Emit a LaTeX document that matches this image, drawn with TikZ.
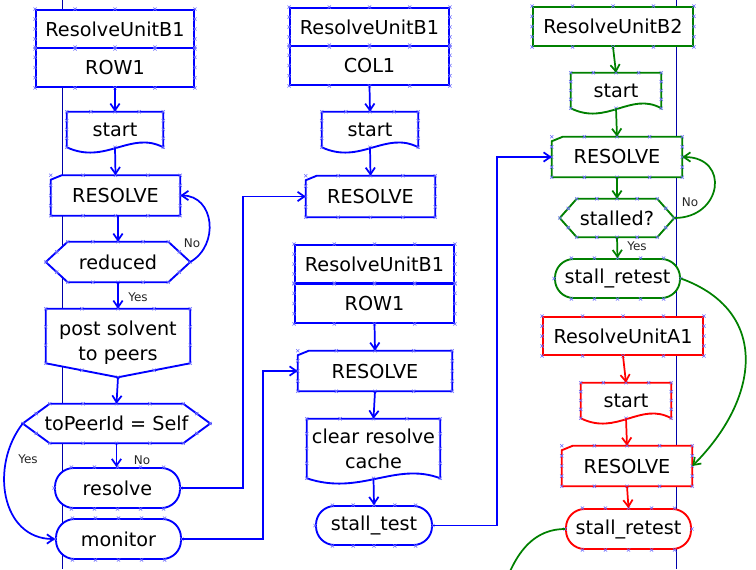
\documentclass[tikz,border=0pt]{standalone}
\usepackage{fontspec}
\setmainfont{DejaVu Sans}
\usetikzlibrary{arrows.meta,calc}
\pgfdeclarelayer{lifeline}
\pgfdeclarelayer{shapebg}
\pgfsetlayers{lifeline,shapebg,main}
\definecolor{cblue}{RGB}{0,0,255}
\definecolor{cgreen}{RGB}{0,128,0}
\definecolor{cred}{RGB}{255,0,0}
\definecolor{lifec}{RGB}{0,0,170}
\definecolor{mkc}{RGB}{110,110,255}
\tikzset{
  txt/.style={font=\fontsize{14.4}{18.5}\selectfont, inner sep=0pt, align=center},
  lbl/.style={font=\fontsize{9}{10}\selectfont, inner sep=0pt, text=black!85},
  sz/.style 2 args={minimum width=#1*0.75pt, minimum height=#2*0.75pt},
  boxn/.style={txt, rectangle, draw=#1, fill=white, line width=1.4pt},
  stad/.style={txt, rectangle, rounded corners=14pt, draw=#1, fill=white, line width=1.4pt},
  plain/.style={txt, rectangle},
  outl/.style={draw=#1, fill=white, line width=1.4pt, line join=miter},
  conn/.style={draw=#1, line width=1.3pt, -{Straight Barb[length=5pt,width=7pt]}},
  life/.style={draw=lifec, line width=0.6pt},
  mk/.style={draw=mkc, line width=0.45pt},
  xmk/.pic={\draw[mk] (-1.6,-1.6) -- (1.6,1.6) (-1.6,1.6) -- (1.6,-1.6);},
}
\newcommand\docshape[2]{%
  \draw[outl=#2] (#1.north west) -- (#1.north east) -- (#1.south east)
    .. controls ($(#1.south east)!0.34!(#1.south west)+(0,-17)$) and ($(#1.south east)!0.6!(#1.south west)+(0,18)$) .. (#1.south west) -- cycle;}
\newcommand\cardshape[2]{%
  \draw[outl=#2] ($(#1.north west)+(0,4.5)$) -- ($(#1.north west)+(11,0)$) -- (#1.north east) -- (#1.south east) -- (#1.south west) -- cycle;}
\newcommand\hexshape[3]{%
  \draw[outl=#2] (#1.west) -- ($(#1.north west)+(#3,0)$) -- ($(#1.north east)+(-#3,0)$) -- (#1.east) -- ($(#1.south east)+(-#3,0)$) -- ($(#1.south west)+(#3,0)$) -- cycle;}
\newcommand\offpageshape[2]{%
  \draw[outl=#2] (#1.north west) -- (#1.north east) -- ($(#1.south east)+(0,-14)$) -- (#1.south) -- ($(#1.south west)+(0,-14)$) -- cycle;}
% connection-point markers
\newcommand\edgemk[3]{\foreach \f in {#3}{\path ($(#1)!\f!(#2)$) pic{xmk};}}
\newcommand\rmarks[1]{%
  \edgemk{#1.north west}{#1.north east}{0,0.25,0.5,0.75,1}
  \edgemk{#1.south west}{#1.south east}{0,0.25,0.5,0.75,1}
  \edgemk{#1.north west}{#1.south west}{0.25,0.5,0.75}
  \edgemk{#1.north east}{#1.south east}{0.25,0.5,0.75}}
\newcommand\dmarks[1]{%
  \edgemk{#1.north west}{#1.north east}{0,0.25,0.5,0.75,1}
  \edgemk{#1.north west}{#1.south west}{0.25,0.5,0.75,1}
  \edgemk{#1.north east}{#1.south east}{0.25,0.5,0.75,1}
  \path (#1.south) pic{xmk};}
\newcommand\hmarks[2]{%
  \edgemk{[xshift=#2*0.75pt]#1.north west}{[xshift=-#2*0.75pt]#1.north east}{0,0.25,0.5,0.75,1}
  \edgemk{[xshift=#2*0.75pt]#1.south west}{[xshift=-#2*0.75pt]#1.south east}{0,0.25,0.5,0.75,1}
  \edgemk{#1.west}{[xshift=#2*0.75pt]#1.north west}{0,0.5}
  \edgemk{#1.west}{[xshift=#2*0.75pt]#1.south west}{0.5}
  \edgemk{#1.east}{[xshift=-#2*0.75pt]#1.north east}{0,0.5}
  \edgemk{#1.east}{[xshift=-#2*0.75pt]#1.south east}{0.5}}
\newcommand\smarks[1]{%
  \edgemk{[xshift=13pt]#1.north west}{[xshift=-13pt]#1.north east}{0,0.25,0.5,0.75,1}
  \edgemk{[xshift=13pt]#1.south west}{[xshift=-13pt]#1.south east}{0,0.25,0.5,0.75,1}
  \path (#1.west) pic{xmk} (#1.east) pic{xmk};}
\newcommand\omarks[1]{%
  \edgemk{#1.north west}{#1.north east}{0,0.25,0.5,0.75,1}
  \edgemk{#1.north west}{[yshift=10.5pt]#1.south west}{0.33,0.67,1}
  \edgemk{#1.north east}{[yshift=10.5pt]#1.south east}{0.33,0.67,1}
  \edgemk{[yshift=10.5pt]#1.south west}{#1.south}{0.5,1}
  \edgemk{[yshift=10.5pt]#1.south east}{#1.south}{0.5}}
\begin{document}
\begin{tikzpicture}[x=0.75pt,y=-0.75pt]
\useasboundingbox (0,0) rectangle (756,569);
% lifelines
\coordinate (La) at (62,0);
\coordinate (Lb) at (62,569);
\coordinate (Lc) at (676.5,0);
\coordinate (Ld) at (676.5,569);
\begin{pgfonlayer}{lifeline}
  \draw[life] (La) -- (Lb);
  \draw[life] (Lc) -- (Ld);
\end{pgfonlayer}

% column 1
\node[boxn=cblue, sz={158}{38}] (h1) at (115,29) {ResolveUnitB1};
\node[boxn=cblue, sz={158}{39}] (r1) at (115,67.5) {ROW1};
\node[plain, sz={96}{35}] (s1) at (115,129.5) {start};
\node[plain, sz={129}{40}] (R1) at (115.5,195.5) {RESOLVE};
\node[plain, sz={144}{40}] (d1) at (118,262) {reduced};
\node[plain, sz={144}{68}] (p1) at (118,343) {post solvent\\to peers};
\node[plain, sz={187}{39}] (t1) at (116.5,423.5) {toPeerId = Self};
\node[stad=cblue, sz={125}{40}] (rs1) at (117.5,488) {resolve};
\node[stad=cblue, sz={125}{40}] (m1) at (118.5,539) {monitor};

% column 2
\node[boxn=cblue, sz={159}{38}] (h2) at (369.5,27) {ResolveUnitB1};
\node[boxn=cblue, sz={159}{39}] (c2) at (369.5,65.5) {COL1};
\node[plain, sz={96}{35}] (s2) at (370,129.5) {start};
\node[plain, sz={129}{41}] (R2) at (370.5,196.5) {RESOLVE};
\node[boxn=cblue, sz={159}{38}] (h3) at (374.5,264) {ResolveUnitB1};
\node[boxn=cblue, sz={159}{39}] (r3) at (374.5,303.5) {ROW1};
\node[plain, sz={154}{40}] (R3) at (375,371) {RESOLVE};
\node[plain, sz={133}{59}] (c3) at (373.5,448.5) {clear resolve\\cache};
\node[stad=cblue, sz={116}{39}] (st) at (374,525.5) {stall\_test};

% column 3
\node[boxn=cgreen, sz={160}{39}] (h4) at (613,26.5) {ResolveUnitB2};
\node[plain, sz={90}{35}] (s4) at (616,90.5) {start};
\node[plain, sz={130}{40}] (R4) at (617,157) {RESOLVE};
\node[plain, sz={114}{38}] (d4) at (617,218) {stalled?};
\node[stad=cgreen, sz={125}{39}] (sr4) at (617.5,278.5) {stall\_retest};
\node[boxn=cred, sz={160}{38}] (h5) at (623,336) {ResolveUnitA1};
\node[plain, sz={90}{35}] (s5) at (626,400.5) {start};
\node[plain, sz={130}{40}] (R5) at (627,466) {RESOLVE};
\node[stad=cred, sz={125}{40}] (sr5) at (628.5,529) {stall\_retest};

% outlines
\begin{pgfonlayer}{shapebg}
  \docshape{s1}{cblue}
  \cardshape{R1}{cblue}
  \hexshape{d1}{cblue}{22}
  \offpageshape{p1}{cblue}
  \hexshape{t1}{cblue}{27}
  \docshape{s2}{cblue}
  \cardshape{R2}{cblue}
  \cardshape{R3}{cblue}
  \docshape{c3}{cblue}
  \docshape{s4}{cgreen}
  \cardshape{R4}{cgreen}
  \hexshape{d4}{cgreen}{17}
  \docshape{s5}{cred}
  \cardshape{R5}{cred}
\end{pgfonlayer}

% markers
\foreach \n in {h1,r1,h2,c2,h3,r3,h4,h5,R1,R2,R3,R4,R5}{\rmarks{\n}}
\foreach \n in {s1,s2,c3,s4,s5}{\dmarks{\n}}
\foreach \n in {rs1,m1,st,sr4,sr5}{\smarks{\n}}
\hmarks{d1}{22}
\hmarks{t1}{27}
\hmarks{d4}{17}
\omarks{p1}

% labels
\node[lbl] (lyes1) at (138,297) {Yes};
\node[lbl] (lno1) at (192,243) {No};
\node[lbl] (lyes2) at (28,459) {Yes};
\node[lbl] (lno2) at (142,460) {No};
\node[lbl] (lno3) at (690,202) {No};
\node[lbl] (lyes3) at (637,246) {Yes};

% connectors column 1
\draw[conn=cblue] (r1.south) -- (s1.north);
\draw[conn=cblue] (s1.south) -- (R1.north);
\draw[conn=cblue] (d1.north |- R1.south) -- (d1.north);
\draw[conn=cblue] (d1.south) -- (p1.north);
\draw[conn=cblue] (p1.south) -- (t1.north);
\draw[conn=cblue] (t1.south) -- (t1.south |- rs1.north);
\draw[conn=cblue] (t1.west) to[out=232,in=180,looseness=1.15] (m1.west);
\draw[conn=cblue] (d1.east) to[out=30,in=0,looseness=1.3] (R1.east);
\draw[conn=cblue] (rs1.east) -| ($(R2.west)+(-63,0)$) -- (R2.west);
\draw[conn=cblue] (m1.east) -| ($(R3.west)+(-35,0)$) -- (R3.west);

% connectors column 2
\draw[conn=cblue] (c2.south) -- (s2.north);
\draw[conn=cblue] (s2.south) -- (R2.north);
\draw[conn=cblue] (r3.south) -- (R3.north);
\draw[conn=cblue] (R3.south) -- (c3.north);
\draw[conn=cblue] (c3.south) -- (st.north);
\draw[conn=cblue] (st.east) -| ($(R4.west)+(-55,0)$) -- (R4.west);

% connectors column 3
\draw[conn=cgreen] (h4.south) -- (s4.north);
\draw[conn=cgreen] (s4.south) -- (R4.north);
\draw[conn=cgreen] (R4.south) -- (d4.north);
\draw[conn=cgreen] (d4.south) -- (sr4.north);
\draw[conn=cgreen] (d4.east) to[out=0,in=0,looseness=2] (R4.east);
\draw[conn=cgreen] (sr4.east) to[out=-20,in=45,looseness=1.3] (R5.east);
\draw[conn=cred] (h5.south) -- (s5.north);
\draw[conn=cred] (s5.south) -- (R5.north);
\draw[conn=cred] (R5.south) -- (sr5.north);
\coordinate (offc) at (497,610);
\begin{scope}
  \clip (0,0) rectangle (756,569);
  \draw[conn=cgreen] (sr5.west) to[out=180,in=75] (offc);
\end{scope}
\end{tikzpicture}
\end{document}
